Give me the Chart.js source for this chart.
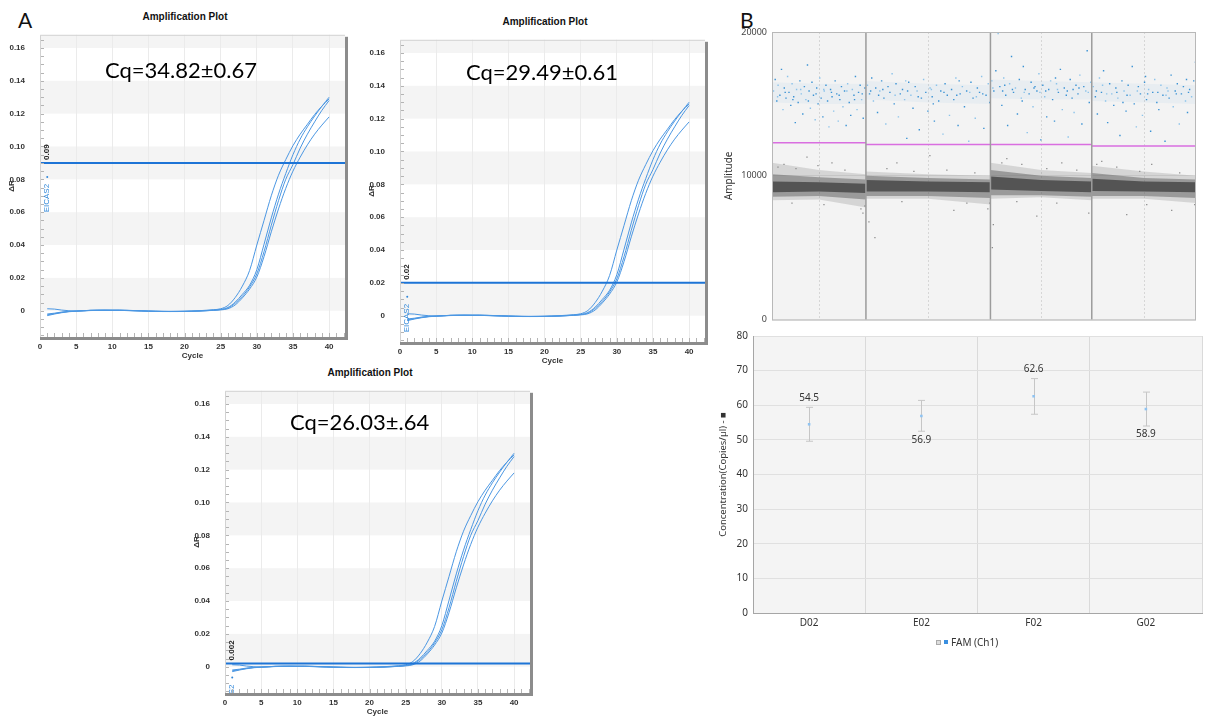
<!DOCTYPE html>
<html>
<head>
<meta charset="utf-8">
<script src="https://cdn.jsdelivr.net/npm/chart.js@4.4.0/dist/chart.umd.min.js"></script>
<style>
  html, body { margin: 0; padding: 0; background: #fff; }
  body { width: 1205px; height: 718px; position: relative; overflow: hidden; }
  canvas { position: absolute; }
  .txt { position: absolute; white-space: nowrap; }
  .letter { font: 21px Lato, 'Noto Sans', sans-serif; line-height: 21px; color: #111; }
  .ptitle { font: bold 10px 'Liberation Sans', Arial, sans-serif; line-height: 10px; color: #111; transform: translateX(-50%); }
  .cq { font: 22px Lato, 'Noto Sans', sans-serif; line-height: 22px; color: #000; }
  .legend { font: 10px 'Noto Sans', sans-serif; line-height: 12px; color: #333; display: flex; align-items: center; }
  .legend i { display: inline-block; width: 4px; height: 4px; margin-right: 3px; }
</style>
</head>
<body>
<div class="txt letter" style="left:18px;top:9px">A</div>
<div class="txt letter" style="left:740px;top:9px">B</div>

<div class="txt ptitle" style="left:185px;top:12px">Amplification Plot</div>
<div class="txt ptitle" style="left:545px;top:17px">Amplification Plot</div>
<div class="txt ptitle" style="left:370px;top:368px">Amplification Plot</div>

<canvas id="amp1" width="351" height="338" style="left:0px;top:23px"></canvas>
<canvas id="amp2" width="351" height="338" style="left:360px;top:28px"></canvas>
<canvas id="amp3" width="351" height="338" style="left:185px;top:379px"></canvas>

<div class="txt cq" style="left:105px;top:59px">Cq=34.82±0.67</div>
<div class="txt cq" style="left:466px;top:61px">Cq=29.49±0.61</div>
<div class="txt cq" style="left:290px;top:411px">Cq=26.03±.64</div>

<canvas id="drop" width="485" height="310" style="left:720px;top:20px"></canvas>
<canvas id="conc" width="506" height="306" style="left:700px;top:325px"></canvas>

<div class="txt legend" style="left:936px;top:636px">
  <i style="background:#ddd;border:1px solid #aaa;width:3px;height:3px"></i><i style="background:#3a8fe0"></i>FAM (Ch1)
</div>

<script>
// ---- amplification curves (same four wells, three thresholds) ----
const cycles = [1, 2, 3, 4, 5, 6, 7, 8, 9, 10, 11, 12, 13, 14, 15, 16, 17, 18, 19, 20,
                21, 22, 23, 24, 25, 26, 27, 28, 29, 30, 31, 32, 33, 34, 35, 36, 37, 38, 39, 40];

const curveA = [0.0012, 0.0010, 0.0004, 0.0000, -0.0002, 0.0000, 0.0003, 0.0004, 0.0004, 0.0003,
                0.0004, 0.0003, 0.0001, 0.0000, -0.0002, -0.0003, -0.0004, -0.0004, -0.0004, -0.0003,
                -0.0002, 0.0000, 0.0003, 0.0006, 0.0012, 0.0032, 0.0080, 0.0150, 0.0245, 0.0400,
                0.0550, 0.0700, 0.0825, 0.0920, 0.1005, 0.1075, 0.1135, 0.1195, 0.1245, 0.1290];
const curveB = [-0.0020, -0.0015, -0.0008, -0.0004, -0.0002, 0.0000, 0.0002, 0.0003, 0.0003, 0.0003,
                0.0003, 0.0002, 0.0000, -0.0001, -0.0003, -0.0004, -0.0004, -0.0005, -0.0004, -0.0004,
                -0.0003, -0.0001, 0.0001, 0.0004, 0.0008, 0.0020, 0.0052, 0.0100, 0.0155, 0.0250,
                0.0405, 0.0565, 0.0710, 0.0835, 0.0950, 0.1045, 0.1120, 0.1185, 0.1245, 0.1300];
const curveC = [-0.0025, -0.0018, -0.0010, -0.0005, -0.0002, 0.0000, 0.0002, 0.0002, 0.0003, 0.0003,
                0.0002, 0.0001, 0.0000, -0.0002, -0.0003, -0.0004, -0.0005, -0.0005, -0.0005, -0.0004,
                -0.0003, -0.0002, 0.0000, 0.0003, 0.0007, 0.0016, 0.0045, 0.0088, 0.0145, 0.0225,
                0.0360, 0.0520, 0.0670, 0.0800, 0.0890, 0.0990, 0.1075, 0.1150, 0.1220, 0.1280];
const curveD = [-0.0030, -0.0020, -0.0012, -0.0006, -0.0003, -0.0001, 0.0001, 0.0002, 0.0002, 0.0002,
                0.0002, 0.0001, 0.0000, -0.0001, -0.0002, -0.0003, -0.0004, -0.0004, -0.0004, -0.0004,
                -0.0003, -0.0002, 0.0000, 0.0002, 0.0005, 0.0012, 0.0035, 0.0078, 0.0132, 0.0205,
                0.0330, 0.0480, 0.0620, 0.0745, 0.0850, 0.0935, 0.1010, 0.1075, 0.1130, 0.1180];

const ampThresholds = [0.09, 0.02, 0.002];
const ampThresholdText = ['0.09', '0.02', '0.002'];
const ampTargetName = 'EICAS2';

// ---- droplet amplitude plot ----
const wellEdges = [0, 9400, 21860, 32000, 42430];
const dropThreshold = [12300, 12170, 12170, 12070];

// negative cloud, edges at start / middle / end of each well
const coreLow  = [[8850, 8900, 8800], [8900, 8900, 8850], [9050, 8950, 8850], [8950, 8900, 8850]];
const coreHigh = [[9600, 9550, 9450], [9700, 9600, 9550], [9950, 9700, 9600], [9800, 9600, 9550]];
const midLow   = [[8550, 8600, 8350], [8600, 8600, 8450], [8650, 8650, 8550], [8600, 8600, 8450]];
const midHigh  = [[10100, 9900, 9750], [10000, 9850, 9750], [10400, 10000, 9850], [10200, 9850, 9750]];
const haloLow  = [[8300, 8350, 7800], [8400, 8400, 8000], [8400, 8500, 8300], [8400, 8400, 8100]];
const haloHigh = [[10900, 10400, 10100], [10300, 10100, 10000], [10900, 10400, 10200], [10700, 10300, 10000]];
// positive cloud density
const posLow  = [[15100, 15000, 15000], [15300, 15100, 15000], [15400, 15300, 15300], [15200, 15100, 15000]];
const posHigh = [[16500, 16400, 16400], [16600, 16400, 16300], [16700, 16600, 16500], [16500, 16400, 16300]];

const blueW1 = [[150,15900],[320,16700],[480,15200],[610,16300],[790,15600],[950,17400],[1100,14600],[1230,16100],
  [1400,15400],[1560,16900],[1700,15800],[1880,14900],[2010,16400],[2170,15500],[2330,13700],[2460,16000],
  [2620,15100],[2790,16600],[2930,15700],[3080,14300],[3240,16200],[3390,15300],[3550,17700],[3710,15900],
  [3840,14700],[4000,16500],[4150,15600],[4320,13900],[4470,16100],[4610,15000],[4780,16800],[4920,15400],
  [5090,14100],[5230,15900],[5400,16300],[5560,15200],[5700,13400],[5860,16000],[6010,15500],[6170,14500],
  [6320,16600],[6480,15700],[6630,13800],[6790,15300],[6950,16200],[7100,14800],[7260,15900],[7420,13500],
  [7570,16400],[7730,15100],[7880,14200],[8040,16000],[8200,15600],[8350,16900],[8510,14600],[8660,15800],
  [8820,16300],[8970,15300],[9130,14000],[9300,16100],[560,15500],[1320,15800],[2090,15300],[2870,16000],
  [3640,15200],[4410,15700],[5180,16000],[5950,15800],[6720,15600],[7490,15900],[8260,15300],[9030,15700]];
const blueW2 = [[9550,16300],[9760,15700],[9980,16800],[10150,15200],[10380,16100],[10560,14400],[10790,15900],
  [10970,16600],[11200,15400],[11390,13600],[11610,16200],[11800,15800],[12020,17100],[12230,15000],[12410,16400],
  [12650,14100],[12840,15700],[13060,16000],[13270,15300],[13490,12600],[13680,16500],[13900,15600],[14110,14700],
  [14330,16200],[14520,15900],[14740,13200],[14950,15400],[15170,16700],[15390,15800],[15600,14500],[15820,16100],
  [16030,15500],[16250,13800],[16460,16300],[16680,15200],[16890,15900],[17110,12900],[17320,16400],[17540,15600],
  [17760,14200],[17970,16000],[18190,15300],[18400,16800],[18620,13500],[18830,15700],[19050,16200],[19260,14800],
  [19480,15900],[19690,12400],[19910,16500],[20120,15400],[20340,14000],[20550,16100],[20770,15800],[20980,16900],
  [21200,13300],[21420,15600],[21640,16400],[21800,15100],[10670,15600],[13380,16600],[16140,15000],[18730,16600],
  [20450,15500],[9870,15900],[11090,16000],[12320,15600],[13570,15900],[14630,15500],[15950,16000],[17210,15800],
  [18490,15600],[19790,15800],[21090,15700]];
const blueW3 = [[22000,16600],[22200,15900],[22400,17300],[22630,19900],[22800,16200],[23000,14900],[23190,16800],
  [23390,15600],[23580,13500],[23780,16400],[23970,18300],[24170,15800],[24360,16100],[24560,14300],[24750,16700],
  [24950,15400],[25150,17600],[25340,16000],[25540,13000],[25730,15700],[25930,16500],[26120,14800],[26320,16200],
  [26510,15900],[26710,17100],[26900,12500],[27100,16300],[27290,15500],[27490,14100],[27690,16000],[27880,16600],
  [28080,15300],[28270,13800],[28470,16400],[28660,15800],[28860,17400],[29050,14600],[29250,16100],[29450,15600],
  [29640,12700],[29840,16700],[30030,15400],[30230,14400],[30420,16300],[30620,15700],[30810,17000],[31010,13600],
  [31200,16200],[31400,15900],[31540,18700],[31750,15100],[31900,16500],[23290,16300],[25040,15200],[26810,15800],
  [28370,16800],[30130,16000],[22100,16100],[23080,15900],[24060,16000],[25240,15800],[26220,16100],[27390,15900],
  [28570,16000],[29550,15900],[30720,16100],[31650,15800]];
const blueW4 = [[32150,16200],[32360,15500],[32560,14300],[32770,16800],[32970,15800],[33180,17300],[33380,15200],
  [33590,13700],[33790,16400],[34000,15700],[34200,14900],[34410,16100],[34610,15400],[34820,12800],[35020,16600],
  [35230,15900],[35430,14500],[35640,16300],[35840,15600],[36050,17600],[36250,15000],[36460,13400],[36660,16200],
  [36870,15700],[37070,14200],[37280,16500],[37480,15300],[37690,16000],[37890,13100],[38100,15800],[38300,16700],
  [38510,15100],[38710,14600],[38920,16300],[39120,15600],[39330,12400],[39530,16100],[39740,15400],[39940,17000],
  [40150,14800],[40350,15900],[40560,16400],[40760,13600],[40970,15700],[41170,16200],[41380,15200],[41580,14400],
  [41790,16000],[41990,15500],[42200,16600],[42380,17900],[33080,16300],[35120,15100],[37380,16900],[39630,15900],
  [41480,16700],[32460,15900],[33490,15700],[34510,15800],[35530,15600],[36560,15900],[37590,15700],[38610,15800],
  [39430,15600],[40460,15700],[41680,15800]];
const grayOutliers = [[1200,10800],[3500,11300],[6000,10900],[8900,7700],[9100,7400],[9300,7900],[9700,6800],
  [10300,5700],[12500,10900],[15800,11400],[18200,7600],[21600,7700],[21800,8100],[22050,5000],[22150,6600],
  [23500,11200],[26500,7200],[29000,10900],[31700,7400],[33000,11000],[35500,7300],[38000,10800],[40000,7600],
  [42300,8000],[600,10600],[2400,10500],[4600,10700],[7300,10400],[11500,10500],[14200,10300],[17500,10400],
  [20300,10200],[23000,10900],[25000,10800],[27500,10500],[30500,10400],[32500,10800],[34500,10600],[36800,10300],
  [40800,10200],[2000,8100],[5200,8000],[13000,8200],[19500,8100],[24500,8200],[28500,8100],[37500,8000]];

// ---- concentration ----
const wells = ['D02', 'E02', 'F02', 'G02'];
const conc = [54.5, 56.9, 62.6, 58.9];
const concLo = [49.6, 52.5, 57.4, 54.0];
const concHi = [59.4, 61.4, 67.7, 63.8];

const AMP_FONT = "'Liberation Sans', Arial, sans-serif";
const UI_FONT = "'Noto Sans', sans-serif";
const X_MAX = 42.2;

const ampDecor = {
    id: 'ampDecor',
    beforeDraw(chart) {
        const {ctx, chartArea: a, scales: {y}} = chart;
        ctx.save();
        ctx.fillStyle = '#fff';
        ctx.fillRect(a.left, a.top, a.right - a.left, a.bottom - a.top);
        ctx.fillStyle = '#f4f4f4';
        [0, 0.04, 0.08, 0.12, 0.16].forEach(v => {
            const top = y.getPixelForValue(Math.min(v + 0.02, y.max));
            const bot = y.getPixelForValue(v);
            ctx.fillRect(a.left, top, a.right - a.left, bot - top);
        });
        ctx.restore();
    },
    afterDatasetsDraw(chart, args, opts) {
        const {ctx, chartArea: a, scales: {x, y}} = chart;
        const ty = y.getPixelForValue(opts.thr);
        const tx = x.getPixelForValue(1);
        ctx.save();
        ctx.beginPath();
        ctx.rect(a.left, a.top, a.right - a.left, a.bottom - a.top);
        ctx.clip();
        ctx.textBaseline = 'middle';
        ctx.save();
        ctx.translate(tx, ty - 3);
        ctx.rotate(-Math.PI / 2);
        ctx.font = 'bold 8px ' + AMP_FONT;
        ctx.fillStyle = '#222';
        ctx.textAlign = 'left';
        ctx.fillText(opts.text, 0, 0);
        ctx.restore();
        ctx.fillStyle = '#2f86d8';
        ctx.beginPath();
        ctx.arc(tx, ty + 14, 1, 0, Math.PI * 2);
        ctx.fill();
        ctx.save();
        ctx.translate(tx, ty + 21);
        ctx.rotate(-Math.PI / 2);
        ctx.font = '8px ' + AMP_FONT;
        ctx.textAlign = 'right';
        ctx.fillText(ampTargetName, 0, 0);
        ctx.restore();
        ctx.restore();
    },
    afterDraw(chart) {
        const {ctx, chartArea: a, scales: {x, y}} = chart;
        ctx.save();
        // minor ticks
        ctx.strokeStyle = '#b4b4b4';
        ctx.lineWidth = 1;
        ctx.beginPath();
        for (let c = 1; c <= 42; c++) {
            const px = Math.round(x.getPixelForValue(c)) + 0.5;
            ctx.moveTo(px, a.bottom - 4);
            ctx.lineTo(px, a.bottom);
        }
        for (let v = -0.015; v <= 0.166; v += 0.005) {
            const py = Math.round(y.getPixelForValue(v)) + 0.5;
            ctx.moveTo(a.left, py);
            ctx.lineTo(a.left + 4, py);
        }
        ctx.stroke();
        // frame
        ctx.strokeStyle = '#d2d2d2';
        ctx.beginPath();
        ctx.moveTo(a.left + 0.5, a.bottom);
        ctx.lineTo(a.left + 0.5, a.top + 0.5);
        ctx.lineTo(a.right, a.top + 0.5);
        ctx.stroke();
        ctx.fillStyle = '#8c8c8c';
        ctx.fillRect(a.right, a.top + 2, 3, a.bottom - a.top + 1);
        ctx.fillRect(a.left, a.bottom, a.right - a.left + 3, 3);
        ctx.restore();
    }
};

function ampChart(id, k) {
    const curves = [curveA, curveB, curveC, curveD];
    const thr = ampThresholds[k];
    new Chart(document.getElementById(id), {
        type: 'line',
        data: {
            datasets: [
                {
                    data: [{x: 0, y: thr}, {x: X_MAX, y: thr}],
                    borderColor: '#1d74d6', borderWidth: 2, pointRadius: 0, order: 0
                },
                ...curves.map(c => ({
                    data: cycles.map((cy, i) => ({x: cy, y: c[i]})),
                    borderColor: '#4b97e3', borderWidth: 1, pointRadius: 0,
                    cubicInterpolationMode: 'monotone', order: 1
                }))
            ]
        },
        options: {
            responsive: false,
            animation: false,
            layout: {padding: {top: 4, right: 6, left: 0, bottom: 0}},
            plugins: {
                legend: {display: false},
                tooltip: {enabled: false},
                ampDecor: {thr: thr, text: ampThresholdText[k]}
            },
            scales: {
                x: {
                    type: 'linear', min: 0, max: X_MAX,
                    afterFit: s => { s.height = 24; },
                    border: {display: false},
                    grid: {color: '#ebebeb', drawTicks: false},
                    ticks: {stepSize: 5, includeBounds: false, padding: 5, maxRotation: 0, color: '#333',
                            font: {size: 8, weight: 'bold', family: AMP_FONT}},
                    title: {display: true, text: 'Cycle', padding: 0, color: '#333',
                            font: {size: 8, weight: 'bold', family: AMP_FONT}}
                },
                y: {
                    min: -0.016, max: 0.168,
                    afterFit: s => { s.width = 40; },
                    border: {display: false},
                    grid: {display: false},
                    ticks: {stepSize: 0.02, includeBounds: false, padding: 7, color: '#333',
                            font: {size: 8, weight: 'bold', family: AMP_FONT},
                            callback: v => Math.abs(v) < 1e-9 ? '0' : v.toFixed(2)},
                    title: {display: true, text: 'ΔR', padding: {top: 7, bottom: 0}, color: '#333',
                            font: {size: 8, weight: 'bold', family: AMP_FONT}}
                }
            }
        },
        plugins: [ampDecor]
    });
}

ampChart('amp1', 0);
ampChart('amp2', 1);
ampChart('amp3', 2);

// ---- droplet chart ----
const dropDecor = {
    id: 'dropDecor',
    beforeDraw(chart) {
        const {ctx, chartArea: a} = chart;
        ctx.save();
        ctx.fillStyle = '#f3f3f3';
        ctx.fillRect(a.left, a.top, a.right - a.left, a.bottom - a.top);
        ctx.restore();
    },
    beforeDatasetsDraw(chart) {
        const {ctx, chartArea: a, scales: {x}} = chart;
        ctx.save();
        ctx.strokeStyle = '#d6d6d6';
        ctx.setLineDash([2, 2]);
        ctx.beginPath();
        for (let i = 0; i < wellEdges.length - 1; i++) {
            const px = Math.round(x.getPixelForValue((wellEdges[i] + wellEdges[i + 1]) / 2)) + 0.5;
            ctx.moveTo(px, a.top);
            ctx.lineTo(px, a.bottom);
        }
        ctx.stroke();
        ctx.restore();
    },
    afterDraw(chart) {
        const {ctx, chartArea: a, scales: {x}} = chart;
        ctx.save();
        ctx.strokeStyle = '#9c9c9c';
        ctx.lineWidth = 1.5;
        ctx.beginPath();
        for (let i = 1; i < wellEdges.length - 1; i++) {
            const px = x.getPixelForValue(wellEdges[i]);
            ctx.moveTo(px, a.top);
            ctx.lineTo(px, a.bottom);
        }
        ctx.stroke();
        ctx.lineWidth = 1;
        ctx.strokeStyle = '#b8b8b8';
        ctx.strokeRect(a.left + 0.5, a.top + 0.5, a.right - a.left - 1, a.bottom - a.top);
        ctx.restore();
    }
};

function bandPts(i, vals) {
    const xs = [wellEdges[i], (wellEdges[i] + wellEdges[i + 1]) / 2, wellEdges[i + 1]];
    return xs.map((x, k) => ({x: x, y: vals[k]}));
}

const dropSets = [];
function addBand(lows, highs, color, order) {
    for (let i = 0; i < 4; i++) {
        dropSets.push({data: bandPts(i, highs[i]), borderColor: 'transparent', borderWidth: 0,
                       pointRadius: 0, fill: false, order: order});
        dropSets.push({data: bandPts(i, lows[i]), borderColor: 'transparent', borderWidth: 0,
                       pointRadius: 0, fill: '-1', backgroundColor: color, order: order});
    }
}
addBand(haloLow, haloHigh, 'rgba(110,110,110,0.22)', 7);
addBand(midLow, midHigh, 'rgba(95,95,95,0.5)', 6);
addBand(coreLow, coreHigh, '#545454', 5);
addBand(posLow, posHigh, 'rgba(70,150,215,0.06)', 4);

dropSets.push({
    data: grayOutliers.map(p => ({x: p[0], y: p[1]})),
    showLine: false, pointStyle: 'rect', pointRadius: 0.9, pointBorderWidth: 0,
    pointBackgroundColor: '#8a8a8a', order: 3
});
[blueW1, blueW2, blueW3, blueW4].forEach(w => {
    dropSets.push({
        data: w.map(p => ({x: p[0], y: p[1]})),
        showLine: false, pointStyle: 'rect', pointRadius: 1, pointBorderWidth: 0,
        pointBackgroundColor: c => c.dataIndex % 3 ? '#3a92d4' : '#8cc3ea', order: 2
    });
});
dropThreshold.forEach((t, i) => {
    dropSets.push({
        data: [{x: wellEdges[i], y: t}, {x: wellEdges[i + 1], y: t}],
        borderColor: '#d96ee0', borderWidth: 1.5, pointRadius: 0, order: 0
    });
});

new Chart(document.getElementById('drop'), {
    type: 'line',
    data: {datasets: dropSets},
    options: {
        responsive: false,
        animation: false,
        layout: {padding: {top: 12, right: 9, left: 0, bottom: 0}},
        plugins: {legend: {display: false}, tooltip: {enabled: false}},
        scales: {
            x: {
                type: 'linear', min: wellEdges[0], max: wellEdges[wellEdges.length - 1],
                afterFit: s => { s.height = 9; },
                ticks: {display: false}, grid: {display: false}, border: {display: false}
            },
            y: {
                min: 0, max: 20000,
                afterFit: s => { s.width = 52; },
                border: {display: false},
                grid: {color: '#dedede', drawTicks: false},
                ticks: {stepSize: 10000, padding: 5, color: '#444', font: {size: 9, family: UI_FONT},
                        callback: v => String(v)},
                title: {display: true, text: 'Amplitude', padding: {top: 3, bottom: 0}, color: '#333',
                        font: {size: 10, family: UI_FONT}}
            }
        }
    },
    plugins: [dropDecor]
});

// ---- concentration chart ----
const concDecor = {
    id: 'concDecor',
    beforeDraw(chart) {
        const {ctx, chartArea: a} = chart;
        ctx.save();
        ctx.fillStyle = '#f4f4f4';
        ctx.fillRect(a.left, a.top, a.right - a.left, a.bottom - a.top);
        ctx.strokeStyle = '#dcdcdc';
        ctx.beginPath();
        ctx.moveTo(a.left, a.top + 0.5);
        ctx.lineTo(a.right, a.top + 0.5);
        ctx.stroke();
        ctx.restore();
    },
    beforeDatasetsDraw(chart) {
        const {ctx, scales: {x, y}} = chart;
        ctx.save();
        ctx.strokeStyle = '#c6c6c6';
        ctx.lineWidth = 1;
        ctx.beginPath();
        wells.forEach((w, i) => {
            const px = Math.round(x.getPixelForValue(i)) + 0.5;
            const top = y.getPixelForValue(concHi[i]);
            const bot = y.getPixelForValue(concLo[i]);
            ctx.moveTo(px, top); ctx.lineTo(px, bot);
            ctx.moveTo(px - 3.5, top); ctx.lineTo(px + 3.5, top);
            ctx.moveTo(px - 3.5, bot); ctx.lineTo(px + 3.5, bot);
        });
        ctx.stroke();
        ctx.restore();
    },
    afterDatasetsDraw(chart) {
        const {ctx, scales: {x, y}} = chart;
        ctx.save();
        ctx.font = '10px ' + UI_FONT;
        ctx.fillStyle = '#333';
        ctx.textAlign = 'center';
        ctx.textBaseline = 'middle';
        conc.forEach((v, i) => {
            const px = x.getPixelForValue(i);
            const py = i % 2 === 0 ? y.getPixelForValue(concHi[i]) - 9 : y.getPixelForValue(concLo[i]) + 8.5;
            ctx.fillText(v.toFixed(1), px, py);
        });
        ctx.restore();
    }
};

new Chart(document.getElementById('conc'), {
    type: 'line',
    data: {
        labels: wells,
        datasets: [{
            label: 'FAM (Ch1)',
            data: conc,
            showLine: false,
            pointStyle: 'rect',
            pointRadius: 1.8,
            pointBorderWidth: 0,
            pointBackgroundColor: '#8ec3f2'
        }]
    },
    options: {
        responsive: false,
        animation: false,
        layout: {padding: {top: 11, right: 0, left: 0, bottom: 0}},
        plugins: {legend: {display: false}, tooltip: {enabled: false}},
        scales: {
            x: {
                offset: true,
                afterFit: s => { s.height = 18; },
                grid: {offset: true, color: '#dadada', drawTicks: false},
                border: {color: '#a6a6a6'},
                ticks: {padding: 4, color: '#333', font: {size: 10, family: UI_FONT}}
            },
            y: {
                min: 0, max: 80,
                afterFit: s => { s.width = 53; },
                grid: {color: '#e0e0e0', drawTicks: false},
                border: {color: '#a6a6a6'},
                ticks: {stepSize: 10, padding: 5, color: '#333', font: {size: 10, family: UI_FONT}},
                title: {display: true, text: 'Concentration(Copies/µl) - ■', padding: {top: 18, bottom: 0},
                        color: '#333', font: {size: 9.5, family: UI_FONT}}
            }
        }
    },
    plugins: [concDecor]
});
</script>
</body>
</html>
